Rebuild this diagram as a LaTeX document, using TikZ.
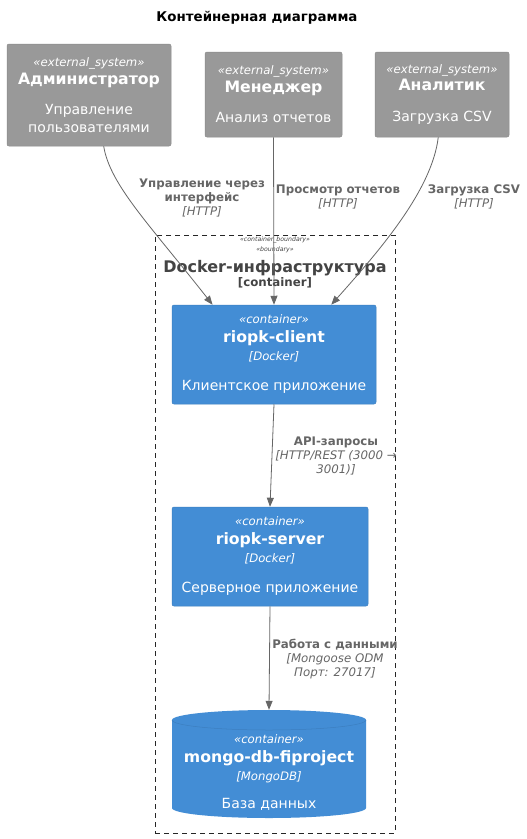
\documentclass[tikz,border=0pt]{standalone}
\usepackage{fontspec}
\setmainfont{DejaVu Sans}
\usetikzlibrary{arrows.meta,calc}
\definecolor{extgrey}{HTML}{999999}
\definecolor{extborder}{HTML}{8A8A8A}
\definecolor{contblue}{HTML}{438DD5}
\definecolor{contborder}{HTML}{3C7FC0}
\definecolor{edgegrey}{HTML}{666666}
\definecolor{bndtext}{HTML}{444444}
\newcommand{\stF}{\fontsize{11.7}{14}\selectfont\itshape}
\newcommand{\nmF}{\fontsize{15.7}{18}\selectfont\bfseries}
\newcommand{\dsF}{\fontsize{14}{17}\selectfont}
\newcommand{\tcF}{\fontsize{11.7}{14}\selectfont\itshape}
\newcommand{\lbF}{\fontsize{11.8}{13.5}\selectfont\bfseries}
\newcommand{\liF}{\fontsize{11.8}{13.5}\selectfont\itshape}
\begin{document}
\begin{tikzpicture}[x=1pt,y=-1pt,
  extbox/.style={fill=extgrey, draw=extborder, line width=0.5pt, rounded corners=2pt, text=white, align=center, inner sep=0pt, font=\fontsize{14}{17.5}\selectfont},
  contbox/.style={fill=contblue, draw=contborder, line width=0.5pt, rounded corners=2pt, text=white, align=center, inner sep=0pt, font=\fontsize{14}{17.5}\selectfont},
  edge/.style={draw=edgegrey, line width=0.8pt, -{Triangle[length=9pt,width=7pt]}},
  elabel/.style={text=edgegrey, align=center, inner sep=0pt, font=\fontsize{11.8}{13.8}\selectfont}
]
\useasboundingbox (0,0) rectangle (527,839);
\fill[white] (0,0) rectangle (527,839);

\node[font=\fontsize{13.4}{15}\selectfont\bfseries] (title) at (257,18) {Контейнерная диаграмма};

% external systems
\node[extbox, minimum width=164, minimum height=102] (admin) at (89,95)
  {{\stF «external\_system»}\\{\nmF Администратор}\\[13pt]{\dsF Управление}\\{\dsF пользователями}};
\node[extbox, minimum width=137, minimum height=85] (manager) at (273.5,94.5)
  {{\stF «external\_system»}\\{\nmF Менеджер}\\[13pt]{\dsF Анализ отчетов}};
\node[extbox, minimum width=134, minimum height=85] (analyst) at (442,94.5)
  {{\stF «external\_system»}\\{\nmF Аналитик}\\[13pt]{\dsF Загрузка CSV}};

% boundary
\node[draw=black!85, dash pattern=on 5pt off 4pt, line width=0.7pt, minimum width=240, minimum height=598, inner sep=0pt] (bnd) at (275,534) {};
\node[text=bndtext, font=\fontsize{6.2}{7}\selectfont\itshape, inner sep=0pt] (bst1) at (275,240) {«container\_boundary»};
\node[text=bndtext, font=\fontsize{6.2}{7}\selectfont\itshape, inner sep=0pt] (bst2) at (275,250) {«boundary»};
\node[text=bndtext, font=\fontsize{16}{18}\selectfont\bfseries, inner sep=0pt] (btitle) at (275,268) {Docker-инфраструктура};
\node[text=bndtext, font=\fontsize{11.8}{14}\selectfont\bfseries, inner sep=0pt] (btype) at (275,283) {[container]};

% containers
\node[contbox, minimum width=204, minimum height=99] (client) at (274,354.5)
  {{\stF «container»}\\[1.5pt]{\nmF riopk-client}\\{\tcF [Docker]}\\[13pt]{\dsF Клиентское приложение}};
\node[contbox, minimum width=196, minimum height=99] (server) at (270,556.5)
  {{\stF «container»}\\[1.5pt]{\nmF riopk-server}\\{\tcF [Docker]}\\[13pt]{\dsF Серверное приложение}};

% database cylinder
\node[minimum width=194, minimum height=108, inner sep=0pt] (db) at (269,764) {};
\fill[contblue] (172,720) -- (172,808) arc[start angle=180, end angle=0, x radius=97, y radius=10]
  -- (366,720) arc[start angle=0, end angle=-180, x radius=97, y radius=10] -- cycle;
\draw[contborder, line width=0.5pt] (172,720) arc[start angle=180, end angle=0, x radius=97, y radius=10];
\node[text=white, align=center, inner sep=0pt, font=\fontsize{14}{17.5}\selectfont] (dbtext) at (269,773)
  {{\stF «container»}\\[1.5pt]{\nmF mongo-db-fiproject}\\{\tcF [MongoDB]}\\[11pt]{\dsF База данных}};

% edges
\draw[edge] (admin.-74) .. controls (110,185) and (150,225) .. (client.141);
\draw[edge] (manager.south) -- (client.north);
\draw[edge] (analyst.-95) .. controls (432,190) and (380,250) .. (client.41);
\draw[edge] (client.south) -- (server.north);
\draw[edge] (server.south) -- (db.north);

% edge labels
\node[elabel] (l1) at (202,198) {{\lbF Управление через}\\{\lbF интерфейс}\\{\liF [HTTP]}};
\node[elabel] (l2) at (338,197) {{\lbF Просмотр отчетов}\\{\liF [HTTP]}};
\node[elabel] (l3) at (474,197) {{\lbF Загрузка CSV}\\{\liF [HTTP]}};
\node[elabel] (l4) at (336,456) {{\lbF API-запросы}\\{\liF [HTTP/REST (3000 →}\\{\liF 3001)]}};
\node[elabel] (l5) at (335,659) {{\lbF Работа с данными}\\{\liF [Mongoose ODM}\\{\liF Порт: 27017]}};
\end{tikzpicture}
\end{document}
